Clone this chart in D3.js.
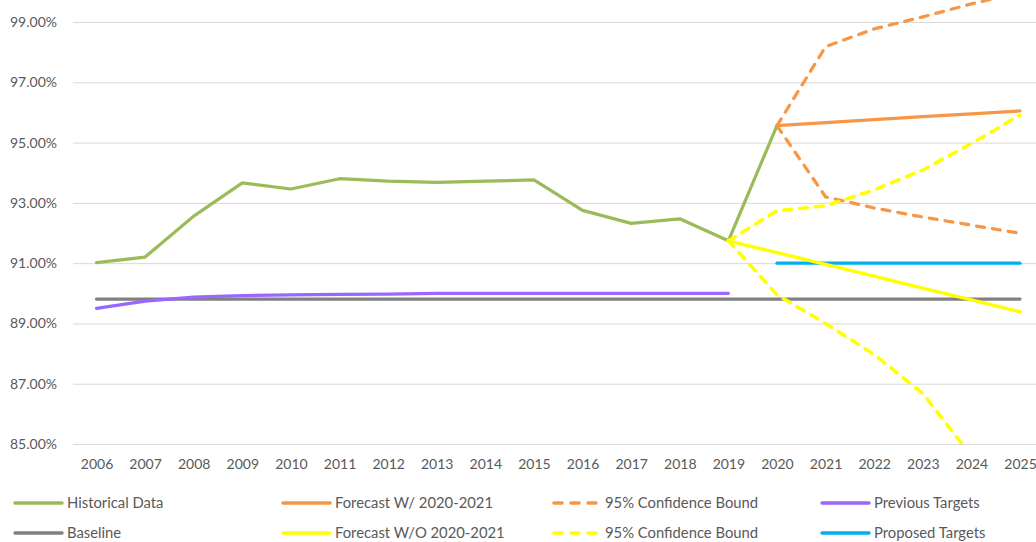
<!DOCTYPE html>
<html>
<head>
<meta charset="utf-8">
<script src="https://cdn.jsdelivr.net/npm/d3@7"></script>
<style>
  body { margin: 0; background: #fff; }
  svg { display: block; font-family: Lato, "Open Sans", sans-serif; }
</style>
</head>
<body>
<svg id="chart" width="1036" height="542"></svg>
<script>
// categories
const years = [2006, 2007, 2008, 2009, 2010, 2011, 2012, 2013, 2014, 2015,
               2016, 2017, 2018, 2019, 2020, 2021, 2022, 2023, 2024, 2025];
const yTicks = [85, 87, 89, 91, 93, 95, 97, 99];

// series (percent), each starts at the year given next to it
const historical = [91.02, 91.2, 92.56, 93.66, 93.46, 93.8, 93.72, 93.68, 93.72, 93.76,
                    92.75, 92.32, 92.47, 91.74, 95.56];           // 2006
const baseline = [89.81, 89.81, 89.81, 89.81, 89.81, 89.81, 89.81, 89.81, 89.81, 89.81,
                  89.81, 89.81, 89.81, 89.81, 89.81, 89.81, 89.81, 89.81, 89.81, 89.81]; // 2006
const previousTargets = [89.5, 89.74, 89.87, 89.92, 89.95, 89.96, 89.97, 90.0, 90.0, 90.0,
                         90.0, 90.0, 90.0, 90.0];                  // 2006
const proposedTargets = [91.0, 91.0, 91.0, 91.0, 91.0, 91.0];       // 2020
const forecastWith = [95.56, 95.66, 95.76, 95.86, 95.95, 96.05];    // 2020
const upperWith = [95.56, 98.18, 98.77, 99.17, 99.6, 99.98];        // 2020
const lowerWith = [95.56, 93.2, 92.83, 92.53, 92.26, 91.99];        // 2020
const forecastWithout = [91.74, 91.35, 90.96, 90.57, 90.17, 89.78, 89.39]; // 2019
const upperWithout = [91.74, 92.74, 92.9, 93.43, 94.09, 94.97, 95.91];     // 2019
const lowerWithout = [91.74, 89.95, 89.0, 87.97, 86.68, 84.6, 83.2];       // 2019

const series = [
  { name: "Baseline", start: 2006, values: baseline, color: "#808080", dash: false },
  { name: "Previous Targets", start: 2006, values: previousTargets, color: "#9966FF", dash: false },
  { name: "Proposed Targets", start: 2020, values: proposedTargets, color: "#00B0F0", dash: false },
  { name: "Historical Data", start: 2006, values: historical, color: "#9BBB59", dash: false },
  { name: "Forecast W/ 2020-2021", start: 2020, values: forecastWith, color: "#F79646", dash: false },
  { name: "95% Confidence Bound", start: 2020, values: upperWith, color: "#F79646", dash: true },
  { name: "", start: 2020, values: lowerWith, color: "#F79646", dash: true },
  { name: "Forecast W/O 2020-2021", start: 2019, values: forecastWithout, color: "#FFFF00", dash: false },
  { name: "95% Confidence Bound", start: 2019, values: upperWithout, color: "#FFFF00", dash: true },
  { name: "", start: 2019, values: lowerWithout, color: "#FFFF00", dash: true }
];

const legendRows = [
  [{ name: "Historical Data", color: "#9BBB59" }, { name: "Forecast W/ 2020-2021", color: "#F79646" },
   { name: "95% Confidence Bound", color: "#F79646", dash: true }, { name: "Previous Targets", color: "#9966FF" }],
  [{ name: "Baseline", color: "#808080" }, { name: "Forecast W/O 2020-2021", color: "#FFFF00" },
   { name: "95% Confidence Bound", color: "#FFFF00", dash: true }, { name: "Proposed Targets", color: "#00B0F0" }]
];

const svg = d3.select("#chart");
const textColor = "#595959";

const x = d3.scaleLinear().domain([2006, 2025]).range([96.5, 1020]);
const y = d3.scaleLinear().domain([85, 99]).range([444, 22]);

// y gridlines + labels
const yAxis = svg.append("g")
  .attr("transform", "translate(73,0)")
  .call(d3.axisLeft(y).tickValues(yTicks).tickSize(-963).tickPadding(16)
    .tickFormat(d => d3.format(".2f")(d) + "%"));
yAxis.select(".domain").remove();
yAxis.selectAll("line").attr("stroke", "#D9D9D9").attr("stroke-width", 1);
yAxis.selectAll("text").attr("fill", textColor).attr("font-size", 14).attr("font-family", "Lato");

// x labels
const xAxis = svg.append("g")
  .attr("transform", "translate(0,444)")
  .call(d3.axisBottom(x).tickValues(years).tickSize(0).tickPadding(15).tickFormat(d3.format("d")));
xAxis.select(".domain").remove();
xAxis.selectAll("text").attr("fill", textColor).attr("font-size", 14).attr("font-family", "Lato");

svg.append("clipPath").attr("id", "plot")
  .append("rect").attr("x", 0).attr("y", -100).attr("width", 1036).attr("height", 544);

const line = d3.line().x(d => x(d[0])).y(d => y(d[1]));

svg.append("g").attr("clip-path", "url(#plot)")
  .selectAll("path")
  .data(series)
  .enter()
  .append("path")
    .attr("d", s => line(s.values.map((v, i) => [s.start + i, v])))
    .attr("fill", "none")
    .attr("stroke", s => s.color)
    .attr("stroke-width", s => s.color === "#FFFF00" ? 3.5 : 3.25)
    .attr("stroke-linecap", "round")
    .attr("stroke-linejoin", "round")
    .attr("stroke-dasharray", s => s.dash ? "8,8" : null);

// legend
const colX = [15, 283, 553, 822];
legendRows.forEach((row, r) => {
  const ly = 503 + r * 30;
  row.forEach((item, c) => {
    const g = svg.append("g").attr("transform", `translate(${colX[c]},${ly})`);
    g.append("line")
      .attr("x1", item.dash ? 1 : 0).attr("x2", item.dash ? 43 : 47)
      .attr("stroke", item.color).attr("stroke-width", 3.5)
      .attr("stroke-linecap", "round")
      .attr("stroke-dasharray", item.dash ? "8,9" : null);
    g.append("text")
      .attr("x", 52)
      .attr("dy", "0.35em")
      .attr("fill", textColor).attr("font-size", 14.8)
      .text(item.name);
  });
});
</script>
</body>
</html>
